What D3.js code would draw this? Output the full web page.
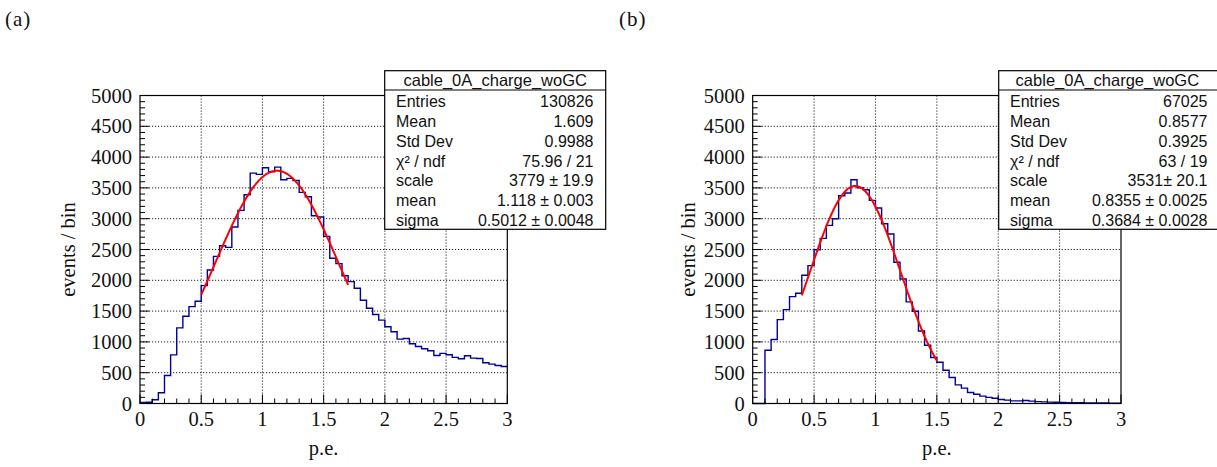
<!DOCTYPE html>
<html><head><meta charset="utf-8">
<script src="https://cdn.jsdelivr.net/npm/d3@7"></script>
<style>body{margin:0;background:#fff}svg{display:block}</style></head>
<body>
<svg id="c" width="1217" height="467"></svg>
<script>
// ---- data ----
const xDomain = [0, 3];
const yDomain = [0, 5000];
const binWidth = 0.05;
const countsA = [18, 20, 62, 175, 454, 789, 1227, 1416, 1573, 1659,
  1913, 2167, 2389, 2562, 2535, 2865, 3135, 3389, 3740, 3719,
  3827, 3762, 3838, 3632, 3654, 3621, 3427, 3356, 3048, 3027,
  2713, 2357, 2270, 2075, 1978, 1870, 1676, 1546, 1446, 1354,
  1246, 1165, 1045, 1056, 970, 926, 888, 856, 780, 813,
  791, 748, 726, 775, 737, 731, 661, 639, 618, 601];
const countsB = [0, 0, 865, 1038, 1362, 1524, 1735, 1789, 2081, 2238,
  2497, 2681, 2892, 3000, 3373, 3416, 3632, 3503, 3470, 3297,
  3173, 2919, 2751, 2292, 2022, 1649, 1497, 1178, 946, 746,
  670, 540, 422, 303, 249, 178, 150, 120, 100, 85,
  65, 54, 43, 43, 49, 38, 30, 27, 22, 20,
  16, 14, 12, 11, 10, 9, 8, 7, 6, 5];
const fitParamsA = [3779, 1.118, 0.5012];
const fitRangeA = [0.5, 1.7];
const fitParamsB = [3531, 0.8355, 0.3684];
const fitRangeB = [0.4, 1.5];
const xTicks = [0, 0.5, 1, 1.5, 2, 2.5, 3];
const xTickLabels = ["0", "0.5", "1", "1.5", "2", "2.5", "3"];
const yTicks = [0, 500, 1000, 1500, 2000, 2500, 3000, 3500, 4000, 4500, 5000];
const xMinorStep = 0.1;
const yMinorStep = 100;
const statTitle = "cable_0A_charge_woGC";
const statLabels = ["Entries", "Mean", "Std Dev", "χ² / ndf", "scale", "mean", "sigma"];
const statValuesA = ["130826", "1.609", "0.9988", "75.96 / 21", "3779 ± 19.9", "1.118 ± 0.003", "0.5012 ± 0.0048"];
const statValuesB = ["67025", "0.8577", "0.3925", "63 / 19", "3531± 20.1", "0.8355 ± 0.0025", "0.3684 ± 0.0028"];
const panelLabels = ["(a)", "(b)"];
const xTitle = "p.e.";
const yTitle = "events / bin";

// ---- layout ----
const panels = [
  {counts: countsA, fit: fitParamsA, fitRange: fitRangeA, stats: statValuesA, label: panelLabels[0],
   x0: 140, x1: 507.3, y0: 95.5, y1: 403.5, labelX: 5, ytX: 75,
   box: {x: 384.7, y: 70.7, w: 221, h: 158.6, tx0: 396, tx1: 593.5}},
  {counts: countsB, fit: fitParamsB, fitRange: fitRangeB, stats: statValuesB, label: panelLabels[1],
   x0: 752.7, x1: 1121, y0: 95.5, y1: 403.5, labelX: 619, ytX: 695,
   box: {x: 998.7, y: 70.7, w: 240, h: 158.6, tx0: 1010, tx1: 1207.5}}
];

const svg = d3.select("#c");
const serif = "'Liberation Serif', 'Times New Roman', serif";
const sans = "'Liberation Sans', Arial, sans-serif";

panels.forEach(p => {
  const g = svg.append("g");
  const x = d3.scaleLinear().domain(xDomain).range([p.x0, p.x1]);
  const y = d3.scaleLinear().domain(yDomain).range([p.y1, p.y0]);

  // grid
  g.selectAll(".gx").data(xTicks.slice(1, -1)).join("line")
    .attr("x1", d => x(d)).attr("x2", d => x(d)).attr("y1", p.y0).attr("y2", p.y1)
    .attr("stroke", "#222").attr("stroke-width", 1).attr("stroke-dasharray", "1.2,1.8");
  g.selectAll(".gy").data(yTicks.slice(1, -1)).join("line")
    .attr("y1", d => y(d)).attr("y2", d => y(d)).attr("x1", p.x0).attr("x2", p.x1)
    .attr("stroke", "#222").attr("stroke-width", 1).attr("stroke-dasharray", "1.2,1.8");

  // histogram step
  const pts = [];
  p.counts.forEach((c, i) => {
    const lo = xDomain[0] + i * binWidth, hi = lo + binWidth;
    pts.push([x(lo), y(c)]); pts.push([x(hi), y(c)]);
  });
  g.append("path").attr("d", d3.line()(pts))
    .attr("fill", "none").attr("stroke", "#00009a").attr("stroke-width", 1.4);

  // fit curve
  const [A, mu, sg] = p.fit;
  const fx = d3.range(0, 201).map(k => p.fitRange[0] + (p.fitRange[1] - p.fitRange[0]) * k / 200);
  g.append("path")
    .attr("d", d3.line().x(d => x(d)).y(d => y(A * Math.exp(-0.5 * ((d - mu) / sg) ** 2)))(fx))
    .attr("fill", "none").attr("stroke", "#ff0000").attr("stroke-width", 2);

  // frame
  g.append("rect").attr("x", p.x0).attr("y", p.y0).attr("width", p.x1 - p.x0).attr("height", p.y1 - p.y0)
    .attr("fill", "none").attr("stroke", "#000").attr("stroke-width", 1.2);

  // ticks
  const yMinor = d3.range(yDomain[0], yDomain[1] + 1, yMinorStep);
  g.selectAll(".ty").data(yMinor).join("line")
    .attr("x1", p.x0).attr("x2", d => p.x0 + (d % 500 === 0 ? 9 : 5))
    .attr("y1", d => y(d)).attr("y2", d => y(d)).attr("stroke", "#000").attr("stroke-width", 1);
  const xMinor = d3.range(0, 31).map(k => k * xMinorStep);
  g.selectAll(".tx").data(xMinor).join("line")
    .attr("y1", p.y1).attr("y2", (d, k) => p.y1 - (k % 5 === 0 ? 9 : 5))
    .attr("x1", d => x(d)).attr("x2", d => x(d)).attr("stroke", "#000").attr("stroke-width", 1);

  // tick labels
  g.selectAll(".yl").data(yTicks).join("text")
    .attr("x", p.x0 - 8).attr("y", d => y(d) + 7).attr("text-anchor", "end")
    .attr("font-family", serif).attr("font-size", 20.5).attr("fill", "#111").text(d => d);
  g.selectAll(".xl").data(xTicks).join("text")
    .attr("x", d => x(d)).attr("y", p.y1 + 22.5).attr("text-anchor", "middle")
    .attr("font-family", serif).attr("font-size", 20.5).attr("fill", "#111").text((d, i) => xTickLabels[i]);

  // axis titles
  g.append("text").attr("x", (p.x0 + p.x1) / 2).attr("y", 455).attr("text-anchor", "middle")
    .attr("font-family", serif).attr("font-size", 20.5).attr("fill", "#111").text(xTitle);
  g.append("text").attr("transform", `translate(${p.ytX},${(p.y0 + p.y1) / 2}) rotate(-90)`)
    .attr("text-anchor", "middle").attr("font-family", serif).attr("font-size", 20.5).attr("fill", "#111").text(yTitle);

  // panel label
  g.append("text").attr("x", p.labelX).attr("y", 26).attr("font-family", serif).attr("font-size", 21)
    .attr("letter-spacing", 1).attr("fill", "#111").text(p.label);

  // stat box
  const b = p.box;
  g.append("rect").attr("x", b.x).attr("y", b.y).attr("width", b.w).attr("height", b.h)
    .attr("fill", "#fff").attr("stroke", "#000").attr("stroke-width", 1.2);
  g.append("line").attr("x1", b.x).attr("x2", b.x + b.w).attr("y1", 90).attr("y2", 90)
    .attr("stroke", "#000").attr("stroke-width", 1.2);
  g.append("text").attr("x", (b.x + Math.min(b.x + b.w, 1217)) / 2 + (b.w > 230 ? -0.5 : 0)).attr("y", 86)
    .attr("text-anchor", "middle").attr("font-family", sans).attr("font-size", 16.5).attr("fill", "#111")
    .text(statTitle);
  statLabels.forEach((lab, i) => {
    const yy = 107.3 + i * 19.75;
    g.append("text").attr("x", b.tx0).attr("y", yy).attr("font-family", sans).attr("font-size", 16)
      .attr("fill", "#111").text(lab);
    g.append("text").attr("x", b.tx1).attr("y", yy).attr("text-anchor", "end").attr("font-family", sans)
      .attr("font-size", 16).attr("fill", "#111").text(p.stats[i]);
  });
});
</script>
</body></html>
